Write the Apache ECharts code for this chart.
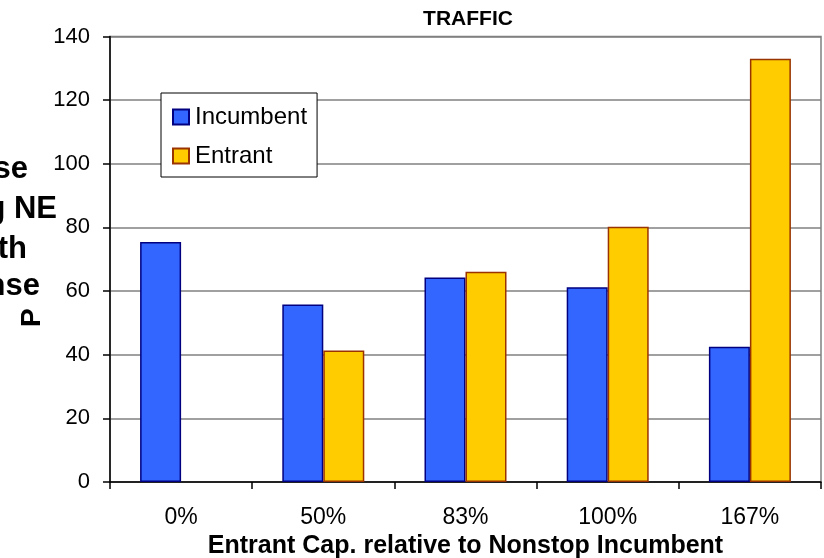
<!DOCTYPE html>
<html>
<head>
<meta charset="utf-8">
<script src="https://cdn.jsdelivr.net/npm/echarts@6/dist/echarts.min.js"></script>
<style>
  html, body { margin: 0; padding: 0; background: #fff; }
  #chart { width: 824px; height: 558px; }
</style>
</head>
<body>
<div id="chart"></div>
<script>
const categories = ['0%', '50%', '83%', '100%', '167%'];
const incumbent = [75.4, 55.8, 64.3, 61.2, 42.5];
const entrant = [null, 41.3, 66.1, 80.2, 133.0];
const yTicks = [0, 20, 40, 60, 80, 100, 120, 140];
const seriesNames = ['Incumbent', 'Entrant'];
const titleText = 'TRAFFIC';
const xAxisTitle = 'Entrant Cap. relative to Nonstop Incumbent';
const leftFragments = ['se', 'g NE', 'th', 'nse'];
const rotatedFragment = 'P';

const FONT = '"Liberation Sans", Arial, sans-serif';
const chart = echarts.init(document.getElementById('chart'), null, { renderer: 'canvas' });

const leftMiddles = [169, 209, 249, 286];
const leftRights = [28, 57, 27, 40];

const graphics = leftFragments.map((t, i) => ({
  type: 'text',
  x: leftRights[i],
  y: leftMiddles[i],
  z: 10,
  style: {
    text: t,
    font: 'bold 31px ' + FONT,
    fill: '#000',
    align: 'right',
    verticalAlign: 'middle'
  }
}));
graphics.push({
  type: 'text',
  x: 18,
  y: 327,
  rotation: Math.PI / 2,
  z: 10,
  style: {
    text: rotatedFragment,
    font: 'bold 28px ' + FONT,
    fill: '#000',
    align: 'left',
    verticalAlign: 'top'
  }
});

chart.setOption({
  animation: false,
  backgroundColor: '#fff',
  title: {
    text: titleText,
    left: 463,
    textAlign: 'center',
    top: 4,
    textStyle: { fontFamily: FONT, fontWeight: 'bold', fontSize: 21, color: '#000' }
  },
  legend: {
    orient: 'vertical',
    left: 161,
    top: 93,
    data: seriesNames,
    backgroundColor: '#fff',
    borderColor: '#000',
    borderWidth: 1,
    borderRadius: 0,
    padding: [12, 10, 9, 11],
    itemWidth: 16,
    itemHeight: 15,
    itemGap: 15,
    icon: 'rect',
    textStyle: { fontFamily: FONT, fontSize: 24, color: '#000', padding: [0, 0, 0, 1] },
    z: 5
  },
  graphic: graphics,
  grid: {
    left: 110,
    right: 3,
    top: 36.5,
    bottom: 76,
    containLabel: false,
    outerBoundsMode: 'none',
    show: true,
    borderColor: '#808080',
    borderWidth: 1.5,
    backgroundColor: '#fff'
  },
  xAxis: {
    type: 'category',
    data: categories,
    name: xAxisTitle,
    nameLocation: 'middle',
    nameGap: 46,
    nameTextStyle: { fontFamily: FONT, fontWeight: 'bold', fontSize: 25, color: '#000' },
    axisLine: { show: true, lineStyle: { color: '#000', width: 1.5 } },
    axisTick: { show: true, length: 7, lineStyle: { color: '#000', width: 1.5 } },
    axisLabel: { margin: 24, fontFamily: FONT, fontSize: 23, color: '#000' },
    splitLine: { show: false }
  },
  yAxis: {
    type: 'value',
    min: yTicks[0],
    max: yTicks[yTicks.length - 1],
    interval: yTicks[1] - yTicks[0],
    axisLine: { show: true, lineStyle: { color: '#000', width: 1.5 } },
    axisTick: { show: true, length: 7, lineStyle: { color: '#000', width: 1.5 } },
    axisLabel: { margin: 20, fontFamily: FONT, fontSize: 22, color: '#000' },
    splitLine: { show: true, lineStyle: { color: '#808080', width: 1.5 } }
  },
  series: [
    {
      name: seriesNames[0],
      type: 'bar',
      data: incumbent,
      barWidth: 41,
      barGap: '0%',
      itemStyle: { color: '#3366FF', borderColor: '#000080', borderWidth: 1.5 }
    },
    {
      name: seriesNames[1],
      type: 'bar',
      data: entrant,
      barWidth: 41,
      barGap: '0%',
      itemStyle: { color: '#FFCC00', borderColor: '#993300', borderWidth: 1.5 }
    }
  ]
});
</script>
</body>
</html>
